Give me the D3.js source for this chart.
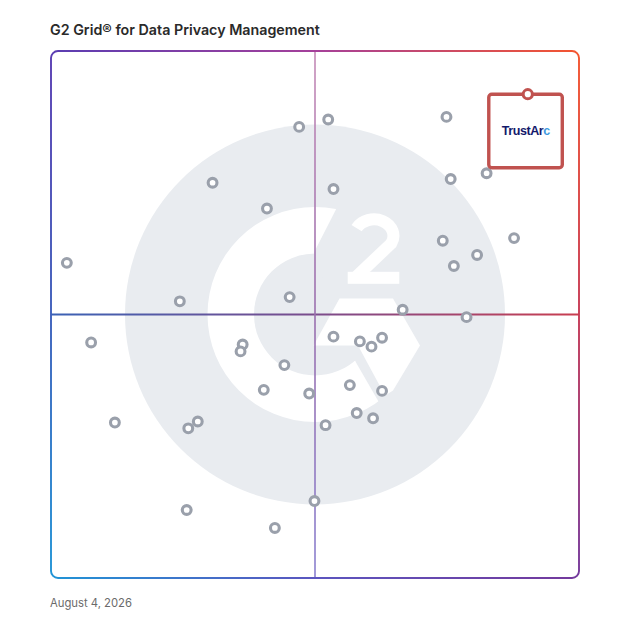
<!DOCTYPE html>
<html><head><meta charset="utf-8">
<script src="https://cdn.jsdelivr.net/npm/d3@7"></script>
<style>html,body{margin:0;padding:0;background:#fff;}svg{display:block;}</style>
</head><body>
<script>
// ---- data (Satisfaction x, Market Presence y, 0-100) ----
const products = ["p1","p2","p3","p4","p5","p6","p7","p8","p9","p10","p11","p12","p13","p14","p15","p16","p17","p18","p19","p20","p21","p22","p23","p24","p25","p26","p27","p28","p29","p30","p31","p32","p33","p34","p35","p36","p37","p38"];
const satisfaction = [3.0,47.0,52.5,74.9,30.6,53.5,75.7,82.5,40.9,74.2,87.7,80.7,76.3,24.4,45.2,66.6,78.7,7.6,36.3,35.9,53.5,58.5,60.7,62.7,44.2,56.6,40.3,48.9,62.7,57.9,61.0,52.0,12.1,27.8,26.0,49.9,25.7,42.4];
const marketPresence = [59.8,85.6,87.0,87.5,75.0,73.8,75.7,76.8,70.1,64.0,64.5,61.3,59.2,52.5,53.3,50.9,49.5,44.7,44.3,43.0,45.8,44.9,43.9,45.6,40.4,36.6,35.7,35.0,35.5,31.3,30.3,29.0,29.5,29.7,28.4,14.6,12.9,9.5];
const featured = {name:"TrustArc", satisfaction:90.3, marketPresence:91.8};
const titleText = "G2 Grid\u00AE for Data Privacy Management";
const dateText = "August 4, 2026";

const W = 628, H = 628;
const box = {x0:51, x1:579, y0:51, y1:578};
const x = d3.scaleLinear().domain([0,100]).range([box.x0, box.x1]);
const y = d3.scaleLinear().domain([0,100]).range([box.y1, box.y0]);

const svg = d3.select("body").append("svg").attr("width", W).attr("height", H);
const defs = svg.append("defs");
function lg(id, x1, y1, x2, y2, stops){
  const g = defs.append("linearGradient").attr("id", id).attr("gradientUnits","userSpaceOnUse")
    .attr("x1",x1).attr("y1",y1).attr("x2",x2).attr("y2",y2);
  stops.forEach(s=>g.append("stop").attr("offset",s[0]).attr("stop-color",s[1]));
}
const cTL="#5a3db2", cTR="#f4552f", cBL="#2094d6", cBR="#74399c";
lg("gTop", box.x0,0,box.x1,0, [[0,cTL],[0.5,"#a5409a"],[1,cTR]]);
lg("gRight", 0,box.y0,0,box.y1, [[0,cTR],[0.5,"#c63a55"],[1,cBR]]);
lg("gBottom", box.x0,0,box.x1,0, [[0,cBL],[0.5,"#5b55bf"],[1,cBR]]);
lg("gLeft", 0,box.y0,0,box.y1, [[0,cTL],[0.5,"#3d5fbb"],[1,cBL]]);
lg("gH", box.x0,0,box.x1,0, [[0,"#3b62b5"],[0.5,"#7b4c8c"],[1,"#c93e50"]]);
lg("gV", 0,box.y0,0,box.y1, [[0,"#c58bb7"],[0.5,"#9a6fae"],[1,"#8a80cf"]]);

// ---- G2 watermark ----
const cx = x(50), cy = y(50);
const gray = "#e9ecf0";
const wm = svg.append("g");
wm.append("circle").attr("cx",cx).attr("cy",cy).attr("r",190).attr("fill",gray);
wm.append("path").attr("transform",`translate(${cx},${cy})`)
  .attr("d", d3.arc().innerRadius(61).outerRadius(107.5).startAngle(0).endAngle(2*Math.PI)())
  .attr("fill","#fff");
// gap on the right side of the ring
wm.append("polygon").attr("fill",gray).attr("points",[
  [cx-1,cy-62],[cx+23,cy-109],[cx+31,cy-126],[cx+136,cy-126],[cx+136,cy+126],
  [cx+82,cy+119],[cx+41,cy+48],[cx+26,cy+16]].map(p=>p.join(",")).join(" "));
// chevron
const ro = 107.5;
wm.append("path").attr("fill","#fff").attr("d",
  `M${cx+24.5},${cy-16} L${cx+78},${cy-16} L${cx+105},${cy+31} L${cx+78},${cy+76}`+
  ` A${ro},${ro} 0 0 1 ${cx+70},${cy+81} L${cx+43},${cy+31} L${cx-1.5},${cy+31} Z`);
// "2"
wm.append("path").attr("fill","none").attr("stroke","#fff").attr("stroke-width",12)
  .attr("stroke-linejoin","round")
  .attr("d", `M${cx+41.6},${cy-86.3} A19.5,16.5 0 0 1 ${cx+76.2},${cy-71} L${cx+40},${cy-36.7}`);
wm.append("rect").attr("x",cx+32.7).attr("y",cy-42.7).attr("width",51.6).attr("height",12).attr("fill","#fff");

// ---- quadrant lines ----
svg.append("line").attr("x1",box.x0).attr("x2",box.x1).attr("y1",y(50)).attr("y2",y(50))
  .attr("stroke","url(#gH)").attr("stroke-width",1.8);
svg.append("line").attr("x1",x(50)).attr("x2",x(50)).attr("y1",box.y0).attr("y2",box.y1)
  .attr("stroke","url(#gV)").attr("stroke-width",1.6);

// ---- border ----
const r = 7, sw = 1.9;
const b = box;
const border = svg.append("g").attr("fill","none").attr("stroke-width",sw);
border.append("path").attr("stroke","url(#gTop)")
  .attr("d",`M${b.x0},${b.y0+r} A${r},${r} 0 0 1 ${b.x0+r},${b.y0} L${b.x1-r},${b.y0} A${r},${r} 0 0 1 ${b.x1},${b.y0+r}`);
border.append("path").attr("stroke","url(#gRight)")
  .attr("d",`M${b.x1},${b.y0+r} L${b.x1},${b.y1-r}`);
border.append("path").attr("stroke","url(#gBottom)")
  .attr("d",`M${b.x1},${b.y1-r} A${r},${r} 0 0 1 ${b.x1-r},${b.y1} L${b.x0+r},${b.y1} A${r},${r} 0 0 1 ${b.x0},${b.y1-r}`);
border.append("path").attr("stroke","url(#gLeft)")
  .attr("d",`M${b.x0},${b.y1-r} L${b.x0},${b.y0+r}`);

// ---- product dots ----
svg.append("g").selectAll("circle").data(products).join("circle")
  .attr("cx",(d,i)=>x(satisfaction[i])).attr("cy",(d,i)=>y(marketPresence[i]))
  .attr("r",4.4).attr("fill","#fff").attr("stroke","#9aa0ab").attr("stroke-width",3.1);

// ---- featured product card ----
const fx = x(featured.satisfaction), fy = y(featured.marketPresence);
const card = svg.append("g");
card.append("rect").attr("x",fx-39).attr("y",fy).attr("width",73.5).attr("height",73.5).attr("rx",3)
  .attr("fill","#fff").attr("stroke","#c0524f").attr("stroke-width",3.4);
card.append("circle").attr("cx",fx).attr("cy",fy).attr("r",4.6)
  .attr("fill","#fff").attr("stroke","#c0524f").attr("stroke-width",3);
const lbl = card.append("text").attr("x",fx-2).attr("y",fy+40.5).attr("text-anchor","middle")
  .attr("font-family","'Liberation Sans', Arial, sans-serif").attr("font-weight",700)
  .attr("font-size",12.5).attr("letter-spacing",-0.4);
lbl.append("tspan").attr("fill","#14196b").text(featured.name.slice(0,-1));
lbl.append("tspan").attr("fill","#3d9be0").text(featured.name.slice(-1));

// ---- title & date ----
const t = svg.append("text").attr("x",50).attr("y",35).attr("fill","#2a2a2a")
  .attr("font-family","Inter, 'Open Sans', sans-serif").attr("font-weight",600).attr("font-size",14.5)
  .text(titleText);
const tl = t.node().getComputedTextLength();
t.attr("font-size", 14.5*270/tl);
const dt = svg.append("text").attr("x",50).attr("y",607).attr("fill","#6a6a6a")
  .attr("font-family","Inter, 'Open Sans', sans-serif").attr("font-size",11).text(dateText);
const dl = dt.node().getComputedTextLength();
dt.attr("font-size", 11*82/dl);
</script>
</body></html>
